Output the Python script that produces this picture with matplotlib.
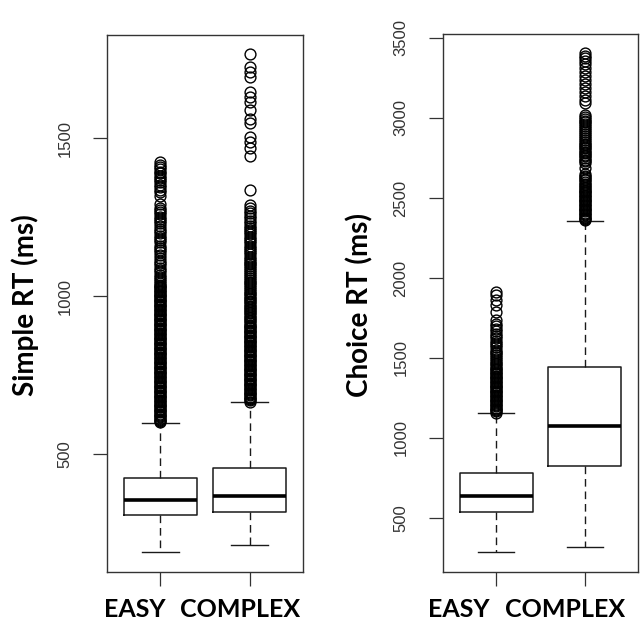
import matplotlib
matplotlib.use("Agg")
import matplotlib.pyplot as plt

CATEGORIES = ["EASY", "COMPLEX"]

# Simple RT box summaries (ms)
SIMPLE_Q1 = [307, 316]
SIMPLE_MED = [354, 367]
SIMPLE_Q3 = [424, 456]
SIMPLE_WLO = [190, 212]
SIMPLE_WHI = [598, 665]
SIMPLE_EASY_OUT = [600, 604, 608, 612, 616, 620, 624, 628, 632, 636, 640, 644, 648, 652,
                   656, 660, 664, 668, 672, 676, 680, 684, 688, 692, 696, 700, 704, 708,
                   712, 716, 720, 724, 728, 732, 736, 740, 744, 748, 752, 756, 760, 764,
                   768, 772, 776, 780, 784, 788, 792, 796, 800, 804, 808, 812, 816, 820,
                   824, 828, 832, 836, 840, 844, 848, 852, 856, 860, 864, 868, 872, 876,
                   880, 884, 888, 892, 896, 900, 904, 908, 912, 916, 920, 924, 928, 932,
                   936, 940, 944, 948, 952, 956, 960, 964, 968, 972, 976, 980, 984, 988,
                   992, 996, 1000, 1004, 1008, 1012, 1016, 1020, 1024, 1028, 1032, 1036,
                   1041, 1047, 1053, 1060, 1068, 1076, 1084, 1090, 1097, 1104, 1112, 1121,
                   1130, 1138, 1146, 1153, 1160, 1170, 1178, 1184, 1190, 1198, 1205, 1213,
                   1222, 1230, 1238, 1245, 1251, 1259, 1266, 1273, 1280, 1290, 1318, 1328,
                   1336, 1344, 1352, 1360, 1367, 1374, 1381, 1388, 1394, 1401, 1408, 1416,
                   1424]
SIMPLE_COMPLEX_OUT = [666, 670, 674, 678, 682, 686, 690, 694, 698, 702, 706, 710, 714, 718,
                      722, 726, 730, 734, 738, 742, 746, 750, 754, 758, 762, 766, 770, 774,
                      778, 782, 786, 790, 794, 798, 802, 806, 810, 814, 818, 822, 826, 830,
                      834, 838, 842, 846, 850, 854, 858, 862, 866, 870, 874, 878, 882, 886,
                      890, 894, 898, 902, 906, 910, 915, 920, 925, 930, 935, 940, 945, 950,
                      955, 960, 965, 970, 975, 980, 985, 990, 995, 1000, 1005, 1010, 1016,
                      1022, 1028, 1034, 1040, 1046, 1052, 1058, 1064, 1070, 1076, 1082,
                      1088, 1094, 1100, 1106, 1112, 1118, 1125, 1132, 1139, 1146, 1153,
                      1160, 1167, 1174, 1181, 1188, 1195, 1202, 1209, 1216, 1223, 1230,
                      1238, 1246, 1254, 1262, 1270, 1279, 1288, 1335, 1443, 1467, 1488,
                      1504, 1547, 1560, 1589, 1615, 1631, 1646, 1694, 1710, 1726, 1766]

# Choice RT box summaries (ms)
CHOICE_Q1 = [537, 825]
CHOICE_MED = [637, 1075]
CHOICE_Q3 = [781, 1443]
CHOICE_WLO = [287, 319]
CHOICE_WHI = [1156, 2356]
CHOICE_EASY_OUT = [1158, 1166, 1174, 1182, 1190, 1198, 1206, 1214, 1222, 1230, 1238, 1246,
                   1254, 1262, 1270, 1278, 1286, 1294, 1302, 1310, 1318, 1326, 1334, 1342,
                   1350, 1358, 1366, 1374, 1382, 1390, 1398, 1406, 1414, 1422, 1430, 1440,
                   1450, 1460, 1470, 1480, 1492, 1504, 1516, 1528, 1540, 1552, 1566, 1580,
                   1594, 1608, 1622, 1636, 1650, 1666, 1682, 1698, 1714, 1735, 1787, 1831,
                   1862, 1894, 1912]
CHOICE_COMPLEX_OUT = [2360, 2368, 2376, 2384, 2392, 2400, 2408, 2416, 2424, 2432, 2440,
                      2448, 2456, 2464, 2472, 2480, 2488, 2496, 2504, 2512, 2520, 2528,
                      2536, 2544, 2552, 2560, 2570, 2580, 2590, 2600, 2610, 2620, 2630,
                      2640, 2650, 2687, 2720, 2730, 2740, 2750, 2760, 2770, 2780, 2790,
                      2800, 2810, 2820, 2830, 2840, 2852, 2864, 2876, 2888, 2900, 2912,
                      2924, 2936, 2948, 2960, 2972, 2984, 2996, 3008, 3020, 3094, 3115,
                      3140, 3165, 3190, 3215, 3240, 3260, 3285, 3310, 3335, 3355, 3375,
                      3390, 3405]

SIMPLE_TICKS = [500, 1000, 1500]
CHOICE_TICKS = [500, 1000, 1500, 2000, 2500, 3000, 3500]

LABEL_FONT = ["Lato", "DejaVu Sans"]
TICK_FONT = ["Liberation Sans", "DejaVu Sans"]
INK = "#1a1a1a"


def stats(q1, med, q3, wlo, whi, fliers):
    out = []
    for i in range(len(q1)):
        out.append(dict(q1=q1[i], med=med[i], q3=q3[i], whislo=wlo[i],
                        whishi=whi[i], fliers=fliers[i], label=CATEGORIES[i]))
    return out


def draw_panel(ax, st, ylim, ticks, ylabel, label_x, cat_x):
    ax.bxp(st, positions=[1, 2], widths=0.82, capwidths=0.41,
           boxprops=dict(color=INK, linewidth=1.1),
           medianprops=dict(color="black", linewidth=2.6, solid_capstyle="butt"),
           whiskerprops=dict(color=INK, linewidth=1.0, linestyle=(0, (5.5, 3.5))),
           capprops=dict(color=INK, linewidth=1.0),
           flierprops=dict(marker="o", markerfacecolor="none",
                           markeredgecolor="black", markeredgewidth=1.0,
                           markersize=7.8, linestyle="none"))
    ax.set_xlim(0.4, 2.6)
    ax.set_ylim(*ylim)
    ax.tick_params(axis="both", length=10, width=0.9, color="#333333", direction="out")
    ax.tick_params(axis="y", pad=15)
    ax.set_xticks([1, 2])
    ax.set_xticklabels(["", ""])
    ax.set_yticks(ticks)
    ax.set_yticklabels([str(t) for t in ticks])
    for lab in ax.get_yticklabels():
        lab.set_family(TICK_FONT)
        lab.set_fontsize(12)
        lab.set_color("#333333")
        lab.set_rotation(90)
        lab.set_va("center")
    for sp in ax.spines.values():
        sp.set_color("#333333")
        sp.set_linewidth(1.0)
    fig.text(label_x, 0.51, ylabel, rotation=90, ha="center", va="center",
             family=LABEL_FONT, fontweight="bold", fontsize=20, color="black")
    for name, x in zip(CATEGORIES, cat_x):
        fig.text(x, 0.003, name, ha="center", va="bottom", family=LABEL_FONT,
                 fontweight="bold", fontsize=18, color="black")


fig = plt.figure(figsize=(6.4, 6.23), dpi=100)
W, H = 640, 623
ax1 = fig.add_axes([107 / W, 1 - 572 / H, 196 / W, 537 / H])
ax2 = fig.add_axes([443 / W, 1 - 572 / H, 195 / W, 538 / H])

draw_panel(ax1,
           stats(SIMPLE_Q1, SIMPLE_MED, SIMPLE_Q3, SIMPLE_WLO, SIMPLE_WHI,
                 [SIMPLE_EASY_OUT, SIMPLE_COMPLEX_OUT]),
           (127, 1826), SIMPLE_TICKS, "Simple RT (ms)", 25 / W, [135 / W, 240 / W])
draw_panel(ax2,
           stats(CHOICE_Q1, CHOICE_MED, CHOICE_Q3, CHOICE_WLO, CHOICE_WHI,
                 [CHOICE_EASY_OUT, CHOICE_COMPLEX_OUT]),
           (162, 3525), CHOICE_TICKS, "Choice RT (ms)", 360 / W, [459 / W, 565 / W])

fig.savefig("out.png", dpi=100)
